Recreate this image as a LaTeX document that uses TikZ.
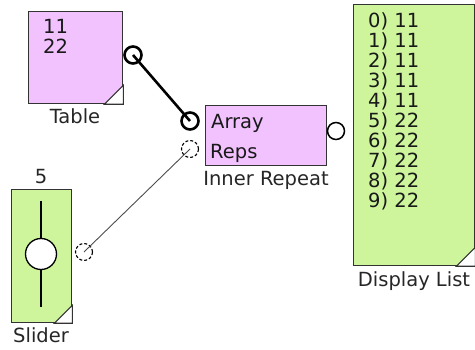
\documentclass[tikz,border=0pt]{standalone}
\usepackage{fontspec}
\setmainfont{DejaVu Sans}
\definecolor{pinkc}{RGB}{242,194,255}
\definecolor{greenc}{RGB}{206,245,156}
\begin{document}
\begin{tikzpicture}[x=1pt,y=-1pt,
  box/.style={draw=black!80, line width=1.3pt, inner sep=0pt, anchor=north west},
  pinkbox/.style={box, fill=pinkc},
  greenbox/.style={box, fill=greenc},
  lbl/.style={font=\fontsize{19.5}{20}\selectfont, anchor=base, inner sep=0pt, text=black!85},
  txt/.style={font=\fontsize{19.5}{20}\selectfont, anchor=base west, inner sep=0pt, text=black!90},
  port/.style={circle, draw=black, minimum size=17pt, inner sep=0pt, line width=1.5pt},
  boldport/.style={port, line width=2.6pt},
  dashport/.style={port, line width=1.1pt, densely dashed},
  fold/.style={draw=black!80, fill=white, line width=1.1pt},
  wire/.style={line width=2.6pt, black},
  thinwire/.style={line width=0.9pt, black!70}
]
\useasboundingbox (0,0) rectangle (475,350);

% Table
\node[pinkbox, minimum width=94pt, minimum height=92pt] (tb) at (28,11) {};
\draw[fold] ([xshift=-19pt]tb.south east) -- ([yshift=19pt]tb.south east) -- (tb.south east) -- cycle;
\node[txt] (t1) at (43,33.5) {11};
\node[txt] (t2) at (43,53.5) {22};
\node[lbl] (tbl) at (75,123.5) {Table};

% Inner Repeat
\node[pinkbox, minimum width=121pt, minimum height=60pt] (ir) at (205,105) {};
\node[txt] (ira) at (211,128.5) {Array};
\node[txt] (irr) at (210,159) {Reps};
\node[lbl] (irl) at (266,186) {Inner Repeat};

% Display List
\node[greenbox, minimum width=121pt, minimum height=261pt] (dl) at (353,4) {};
\draw[fold] ([xshift=-19pt]dl.south east) -- ([yshift=19pt]dl.south east) -- (dl.south east) -- cycle;
\foreach \i/\v in {0/11,1/11,2/11,3/11,4/11,5/22,6/22,7/22,8/22,9/22}
  \node[txt] (d\i) at (368,27.7+20*\i) {\i) \v};
\node[lbl] (dll) at (414,286.5) {Display List};

% Slider
\node[greenbox, minimum width=60pt, minimum height=133pt] (sl) at (11,189) {};
\draw[fold] ([xshift=-18pt]sl.south east) -- ([yshift=18pt]sl.south east) -- (sl.south east) -- cycle;
\coordinate (st) at (41,201);
\coordinate (sb) at (41,307);
\draw[line width=1.6pt, black] (st) -- (sb);
\node[circle, draw=black, fill=white, line width=1.3pt, minimum size=31pt, inner sep=0pt] (knob) at (41,254) {};
\node[lbl] (slv) at (41,183.3) {5};
\node[lbl] (sll) at (41,343) {Slider};

% Ports
\node[boldport] (tp) at (133,55) {};
\node[boldport] (ap) at (190,121) {};
\node[dashport] (rp) at (190,149) {};
\node[port] (op) at (336,131) {};
\node[dashport] (sp) at (84,252) {};

% Connectors
\draw[wire] (tp.center) -- (ap.center);
\draw[thinwire] (sp.center) -- (rp.center);
\end{tikzpicture}
\end{document}
